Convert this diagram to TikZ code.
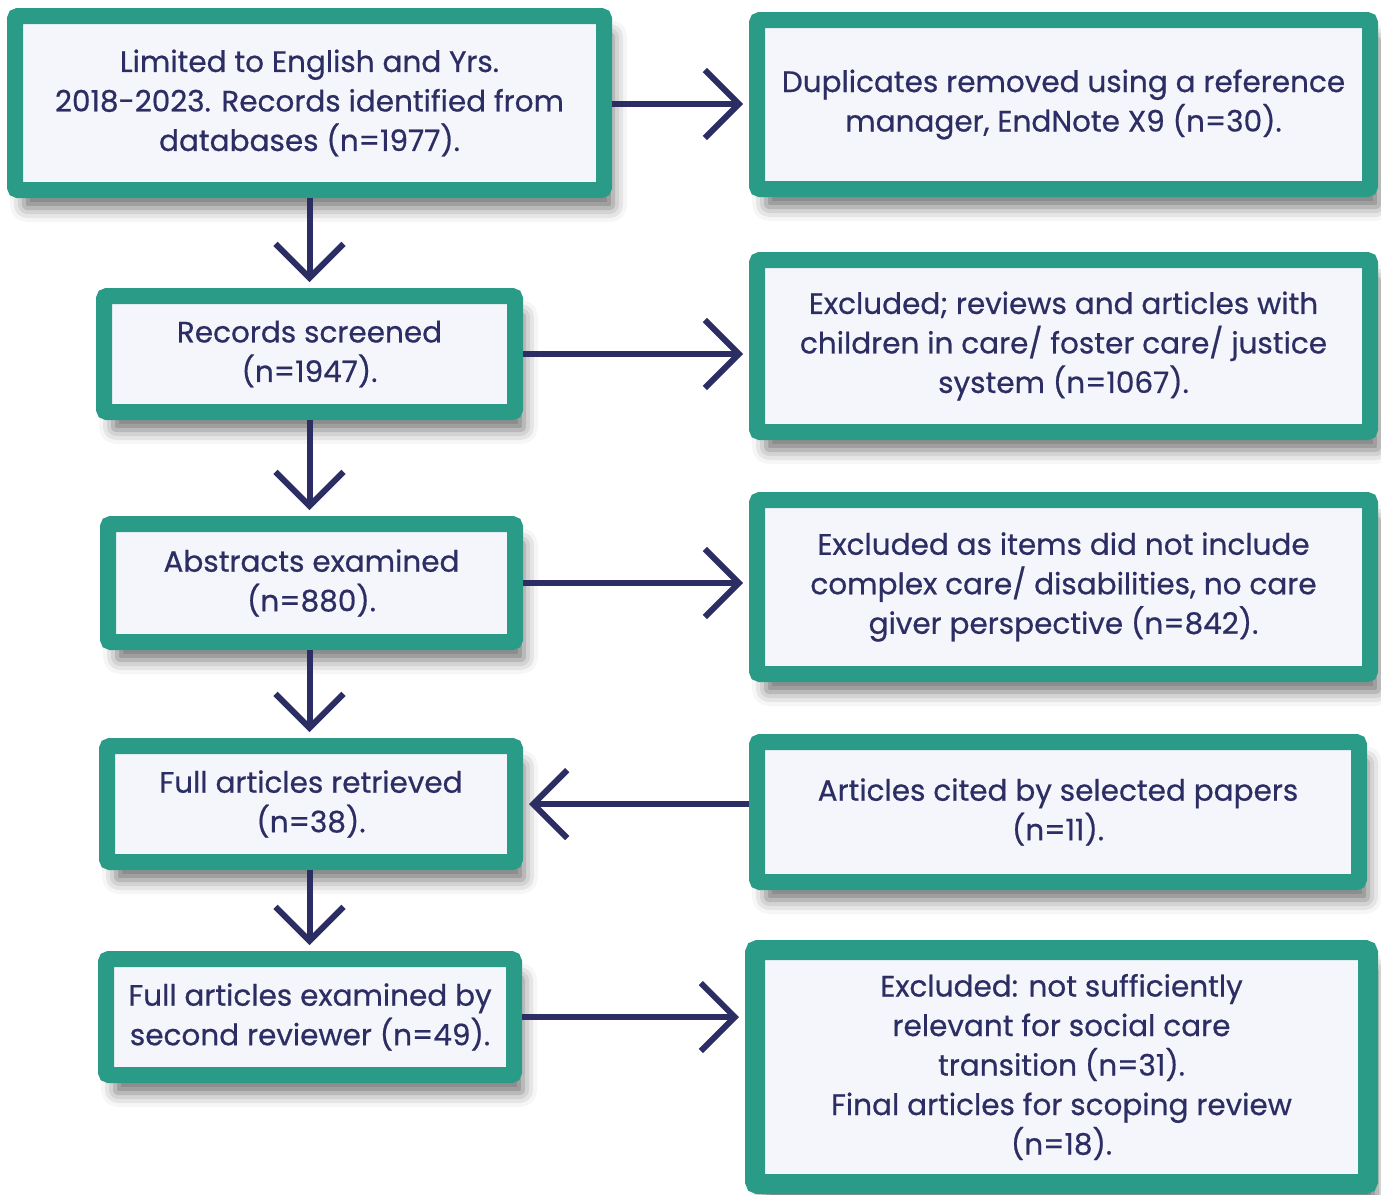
\documentclass[tikz,border=0pt]{standalone}
\usepackage{fontspec}
\setmainfont{Poppins}[FakeBold=0.6]
\usetikzlibrary{arrows.meta,shadows.blur}
\definecolor{boxteal}{HTML}{2A9B87}
\definecolor{boxfill}{HTML}{F5F6FB}
\definecolor{flownavy}{HTML}{2B2D63}
\tikzstyle{stage}=[draw=boxteal, line width=16pt, fill=boxfill, rounded corners=3pt, inner sep=0pt, text=flownavy, align=center, font=\fontsize{29.5}{39.5}\selectfont, blur shadow={shadow xshift=9pt, shadow yshift=-18pt, shadow blur radius=14pt, shadow opacity=55}]
\tikzstyle{flow}=[draw=flownavy, line width=6pt, -{Straight Barb[length=34pt, width=68pt]}, shorten >=6pt]

\begin{document}
\begin{tikzpicture}[x=1pt, y=-1pt]
                    \useasboundingbox (0,0) rectangle (1381,1194);
                    % left column
                    \node[stage, minimum width=589pt, minimum height=174pt] (b1) at (309.5, 103) {Limited to English and Yrs.\\2018-2023. Records identified from\\databases (n=1977).};
                    \node[stage, minimum width=411pt, minimum height=116pt] (b2) at (309.5, 354) {Records screened\\(n=1947).};
                    \node[stage, minimum width=407pt, minimum height=118pt] (b3) at (311.5, 583) {Abstracts examined\\(n=880).};
                    \node[stage, minimum width=408pt, minimum height=116pt] (b4) at (311,   804) {Full articles retrieved\\(n=38).};
                    \node[stage, minimum width=408pt, minimum height=116pt] (b5) at (310,  1017) {Full articles examined by\\second reviewer (n=49).};
                    % right column
                    \node[stage, minimum width=613pt, minimum height=169pt] (r1) at (1063.5, 104.5) {Duplicates removed using a reference\\manager, EndNote X9 (n=30).};
                    \node[stage, minimum width=613pt, minimum height=172pt] (r2) at (1063.5, 346) {Excluded; reviews and articles with\\children in care/ foster care/ justice\\system (n=1067).};
                    \node[stage, minimum width=613pt, minimum height=174pt] (r3) at (1063.5, 587) {Excluded as items did not include\\complex care/ disabilities, no care\\giver perspective (n=842).};
                    \node[stage, minimum width=602pt, minimum height=140pt] (r4) at (1058,   812) {Articles cited by selected papers\\(n=11).};
                    \node[stage, line width=20pt, minimum width=613pt, minimum height=234pt] (r5) at (1061.5, 1067) {Excluded: not sufficiently\\relevant for social care\\transition (n=31).\\Final articles for scoping review\\(n=18).};
                    % connectors
                    \draw[flow]  (b1.south) -- (b1.south |- b2.north);
                    \draw[flow]  (b2.south) -- (b2.south |- b3.north);
                    \draw[flow]  (b2.south |- b3.south) -- (b2.south |- b4.north);
                    \draw[flow]  (b2.south |- b4.south) -- (b2.south |- b5.north);
                    \draw[flow]  (b1.east |- 0,104) -- (r1.west |- 0,104);
                    \draw[flow]  (b2.east) -- (b2.east -| r2.west);
                    \draw[flow]  (b3.east) -- (b3.east -| r3.west);
                    \draw[flow]  (b4.east -| r4.west) -- (b4.east);
                    \draw[flow]  (b5.east) -- (b5.east -| r5.west);
                \end{tikzpicture}
\end{document}
